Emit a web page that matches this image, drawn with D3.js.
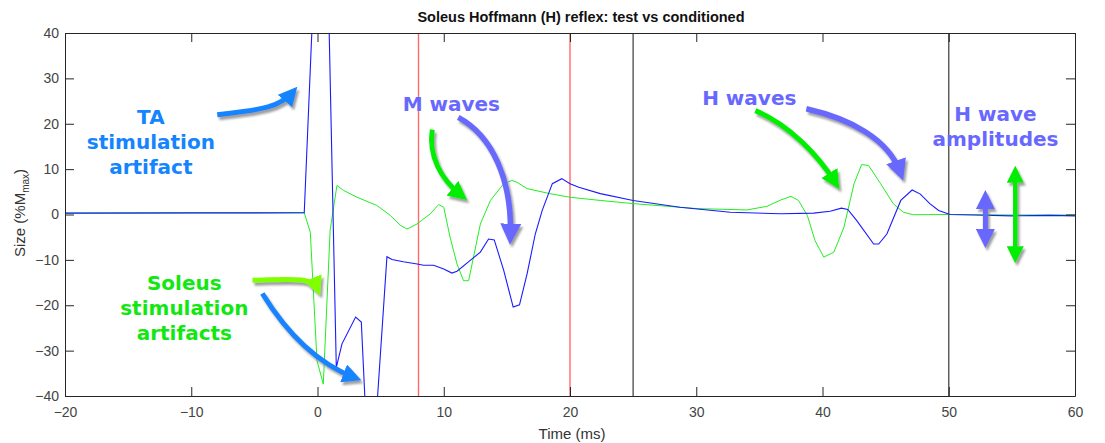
<!DOCTYPE html>
<html>
<head>
<meta charset="utf-8">
<script src="https://cdn.jsdelivr.net/npm/d3@7"></script>
<style>
  body { margin: 0; background: #fff; }
  text { font-family: Arial, 'Liberation Sans', sans-serif; }
  .note { font-family: 'DejaVu Sans', Verdana, sans-serif; font-weight: bold; font-size: 20px; }
  .tick text { font-size: 14px; }
</style>
</head>
<body>
<svg id="chart" width="1105" height="443"></svg>
<script>
// traces (time in ms, size in %Mmax)
const timeBlue = [-20, -10, -1.05, -0.3, 0.85, 1.49, 1.94, 3.02, 3.47, 4.0, 4.4, 5.5, 5.9, 6.8, 7.9, 8.4, 9.2, 10.0, 10.65, 11.05, 12.1, 12.9, 13.55, 14.0, 14.75, 15.5, 16.0, 16.6, 17.25, 17.8, 18.6, 19.35, 20.0, 20.7, 22.4, 25.0, 28.7, 32.7, 36.7, 39.3, 40.6, 41.5, 42.0, 42.7, 44.05, 44.45, 45.1, 46.2, 47.1, 47.75, 48.5, 49.2, 50.1, 52, 55, 58, 60]
const sizeBlue = [0.3, 0.35, 0.37, 50, 50, -33.7, -28.5, -22.6, -23.7, -55, -55, -9.3, -9.9, -10.4, -10.9, -11.2, -11.2, -12.0, -12.9, -12.5, -10.1, -8.3, -5.4, -5.6, -12.3, -20.4, -19.9, -13.1, -4.3, 0.9, 6.8, 7.9, 6.8, 6.0, 4.6, 3.1, 1.6, 0.5, 0.15, 0.3, 0.7, 1.4, 1.1, -1.3, -6.5, -6.5, -4.3, 3.1, 5.4, 4.5, 2.4, 0.9, 0.0, -0.1, -0.3, -0.2, -0.3]
const timeGreen = [-20, -10, -1.05, -0.57, -0.04, 0.46, 1.0, 1.54, 2.07, 3.13, 4.7, 5.77, 6.56, 7.09, 7.88, 8.93, 9.6, 10.0, 10.5, 11.05, 11.57, 11.97, 12.9, 13.7, 14.75, 15.4, 15.8, 16.6, 18.4, 20.0, 22.4, 25.0, 30.1, 34.0, 35.6, 36.7, 37.5, 38.1, 38.8, 39.4, 40.1, 40.9, 41.7, 42.5, 43.1, 43.65, 44.6, 45.6, 46.4, 47.2, 50, 55, 60]
const sizeGreen = [0.3, 0.35, 0.37, -3.9, -32.2, -37.4, -3.5, 6.4, 5.3, 3.8, 2.0, -0.2, -2.4, -3.2, -2.1, 0.15, 2.2, 1.6, -5.0, -10.9, -14.6, -14.6, -2.1, 3.1, 6.8, 7.5, 7.1, 5.7, 4.6, 3.8, 3.1, 2.4, 1.3, 1.0, 1.8, 3.2, 4.0, 3.1, -0.2, -5.7, -9.4, -8.3, -2.8, 6.8, 11.0, 10.8, 6.8, 2.4, 0.5, -0.05, 0.0, -0.1, -0.1]

const xTicks = [-20, -10, 0, 10, 20, 30, 40, 50, 60]
const yTicks = [-40, -30, -20, -10, 0, 10, 20, 30, 40]
const redMarks = [8, 20]
const blackMarks = [25, 50]

// annotation text: [label lines, time, size]
const noteTA = [['TA', 'stimulation', 'artifact'], -13.2, 20.0]
const noteSoleus = [['Soleus', 'stimulation', 'artifacts'], -10.55, -16.6]
const noteM = [['M waves'], 10.6, 22.75]
const noteH = [['H waves'], 34.2, 24.2]
const noteAmp = [['H wave', 'amplitudes'], 53.7, 20.7]

// arrows as cubic curves: tail, ctrl1, ctrl2, end (time, size)
const arrowTA = [[-7.94, 22.0], [-4.19, 23.1], [-2.95, 23.8], [-1.99, 26.9]]
const arrowSolGreen = [[-5.15, -14.5], [-2.16, -14.3], [-0.41, -13.7], [-0.02, -16.3]]
const arrowSolBlue = [[-4.37, -17.4], [-2.55, -25.6], [-0.17, -32.6], [2.91, -35.9]]
const arrowMGreen = [[9.09, 18.7], [8.78, 13.0], [9.73, 7.9], [11.39, 4.2]]
const arrowMBlue = [[11.15, 21.4], [13.84, 17.4], [15.43, 7.5], [15.27, -4.8]]
const arrowHGreen = [[34.68, 22.9], [37.45, 19.6], [39.67, 13.0], [41.02, 7.0]]
const arrowHBlue = [[38.72, 23.3], [42.2, 21.1], [45.21, 16.7], [46.16, 9.25]]
const ampBlue = [52.9, 3.7, -5.7]
const ampGreen = [55.27, 9.25, -9.25]

const colTA = '#1484ff'
const colSol = '#11e811'
const colWave = '#6868ff'

const svg = d3.select('#chart')
const m = {left: 65, right: 1075, top: 33, bottom: 396}

const x = d3.scaleLinear().domain([-20, 60]).range([m.left, m.right])
const y = d3.scaleLinear().domain([-40, 40]).range([m.bottom, m.top])

const defs = svg.append('defs')
defs.append('clipPath').attr('id', 'plotClip')
  .append('rect')
  .attr('x', m.left).attr('y', m.top)
  .attr('width', m.right - m.left).attr('height', m.bottom - m.top)

const shadow = defs.append('filter').attr('id', 'shadow')
  .attr('x', '-30%').attr('y', '-30%').attr('width', '160%').attr('height', '160%')
shadow.append('feDropShadow')
  .attr('dx', 2).attr('dy', 3).attr('stdDeviation', 1.2)
  .attr('flood-color', '#777').attr('flood-opacity', 0.7)

function marker (id, color) {
  defs.append('marker')
    .attr('id', id)
    .attr('viewBox', '0 0 10 10')
    .attr('refX', 6).attr('refY', 5)
    .attr('markerWidth', 3.8).attr('markerHeight', 3.8)
    .attr('orient', 'auto-start-reverse')
    .append('path')
    .attr('d', 'M0,0 L10,5 L0,10 z')
    .attr('fill', color)
}
marker('headTA', colTA)
marker('headSol', '#80ff00')
marker('headGreen', '#00ee00')
marker('headWave', colWave)

// title and axis labels
svg.append('text')
  .attr('x', 581).attr('y', 22)
  .attr('text-anchor', 'middle')
  .attr('font-size', 14.5).attr('font-weight', 'bold')
  .attr('fill', '#111')
  .text('Soleus Hoffmann (H) reflex: test vs conditioned')

svg.append('text')
  .attr('x', 572).attr('y', 439)
  .attr('text-anchor', 'middle')
  .attr('font-size', 15).attr('fill', '#333')
  .text('Time (ms)')

const ylab = svg.append('text')
  .attr('transform', 'translate(25,' + 213 + ') rotate(-90)')
  .attr('text-anchor', 'middle')
  .attr('font-size', 15).attr('fill', '#333')
ylab.append('tspan').text('Size (%M')
ylab.append('tspan').attr('font-size', 10).attr('dy', 4).text('max')
ylab.append('tspan').attr('dy', -4).text(')')

// marker lines
const plot = svg.append('g').attr('clip-path', 'url(#plotClip)')
plot.selectAll('line.red')
  .data(redMarks)
  .enter()
  .append('line')
  .attr('class', 'red')
  .attr('x1', d => x(d)).attr('x2', d => x(d))
  .attr('y1', m.top).attr('y2', m.bottom)
  .attr('stroke', '#ff6b6b').attr('stroke-width', 1.4)
plot.selectAll('line.black')
  .data(blackMarks)
  .enter()
  .append('line')
  .attr('class', 'black')
  .attr('x1', d => x(d)).attr('x2', d => x(d))
  .attr('y1', m.top).attr('y2', m.bottom)
  .attr('stroke', '#555').attr('stroke-width', 1.4)

// traces
const line = d3.line().x(d => x(d[0])).y(d => y(d[1]))
plot.append('path')
  .datum(d3.zip(timeGreen, sizeGreen))
  .attr('d', line)
  .attr('fill', 'none').attr('stroke', '#22ee22').attr('stroke-width', 1)
plot.append('path')
  .datum(d3.zip(timeBlue, sizeBlue))
  .attr('d', line)
  .attr('fill', 'none').attr('stroke', '#1a1aff').attr('stroke-width', 1.1)

// axes, ticks inside, box around
const axisG = svg.append('g')
function tickAxis (axis, transform) {
  const g = axisG.append('g').attr('transform', transform).call(axis)
  g.attr('font-family', 'Arial, sans-serif')
  g.select('.domain').attr('stroke', '#262626')
  g.selectAll('.tick line').attr('stroke', '#262626')
  g.selectAll('text').attr('fill', '#444')
  return g
}
tickAxis(d3.axisBottom(x).tickValues(xTicks).tickSizeInner(-9).tickSizeOuter(0).tickPadding(11), 'translate(0,' + m.bottom + ')')
tickAxis(d3.axisTop(x).tickValues(xTicks).tickSizeInner(-9).tickSizeOuter(0).tickFormat(''), 'translate(0,' + m.top + ')')
tickAxis(d3.axisLeft(y).tickValues(yTicks).tickSizeInner(-9).tickSizeOuter(0).tickPadding(6), 'translate(' + m.left + ',0)')
tickAxis(d3.axisRight(y).tickValues(yTicks).tickSizeInner(-9).tickSizeOuter(0).tickFormat(''), 'translate(' + m.right + ',0)')

// annotations
const notes = svg.append('g')
function note (spec, color) {
  const t = notes.append('text')
    .attr('class', 'note')
    .attr('text-anchor', 'middle')
    .attr('fill', color)
  spec[0].forEach((s, i) => {
    t.append('tspan')
      .attr('x', x(spec[1]))
      .attr('y', y(spec[2]) + i * 25)
      .text(s)
  })
}
note(noteTA, colTA)
note(noteSoleus, colSol)
note(noteM, colWave)
note(noteH, colWave)
note(noteAmp, colWave)

const arrows = svg.append('g').attr('filter', 'url(#shadow)')
function curveArrow (pts, color, head, width) {
  const p = pts.map(d => [x(d[0]), y(d[1])])
  arrows.append('path')
    .attr('d', 'M' + p[0] + 'C' + p[1] + ' ' + p[2] + ' ' + p[3])
    .attr('fill', 'none')
    .attr('stroke', color).attr('stroke-width', width)
    .attr('marker-end', 'url(#' + head + ')')
}
curveArrow(arrowTA, colTA, 'headTA', 5)
curveArrow(arrowSolGreen, '#80ff00', 'headSol', 5)
curveArrow(arrowSolBlue, colTA, 'headTA', 5)
curveArrow(arrowMGreen, '#00ee00', 'headGreen', 5)
curveArrow(arrowMBlue, colWave, 'headWave', 5.5)
curveArrow(arrowHGreen, '#00ee00', 'headGreen', 5)
curveArrow(arrowHBlue, colWave, 'headWave', 5.5)

function doubleArrow (spec, color, head, width) {
  arrows.append('line')
    .attr('x1', x(spec[0])).attr('x2', x(spec[0]))
    .attr('y1', y(spec[1])).attr('y2', y(spec[2]))
    .attr('stroke', color).attr('stroke-width', width)
    .attr('marker-start', 'url(#' + head + ')')
    .attr('marker-end', 'url(#' + head + ')')
}
doubleArrow(ampBlue, colWave, 'headWave', 5)
doubleArrow(ampGreen, '#00ee00', 'headGreen', 4.5)
</script>
</body>
</html>
